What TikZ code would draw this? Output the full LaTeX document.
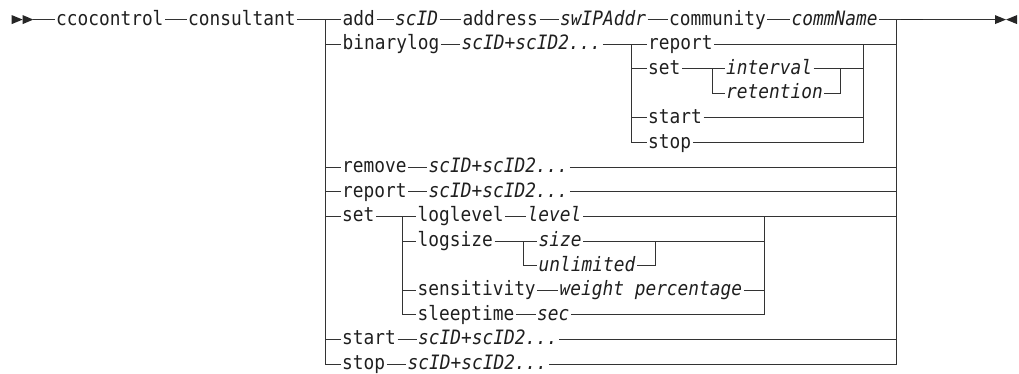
\documentclass[tikz,border=0pt]{standalone}
\usepackage{fontspec}
\newfontfamily\railfont[FakeStretch=0.9]{DejaVu Sans Mono}
\newcommand\railsize{\railfont\fontsize{19.8pt}{20pt}\selectfont}
\begin{document}
\begin{tikzpicture}[x=1pt,y=-1pt,
  kw/.style={anchor=west, inner xsep=1.5pt, inner ysep=0pt, text height=14pt, text depth=3pt, font=\railsize, text=black!88},
  var/.style={kw, font=\railsize\itshape},
  ln/.style={line width=1pt, draw=black!80},
  tip/.style={fill=black!85, draw=none}]
\useasboundingbox (0,0) rectangle (1019,374);
% row y positions
\def\ya{19.6}\def\yb{44.2}\def\yc{68.8}\def\yd{93.4}\def\ye{118.0}\def\yf{142.6}
\def\yg{167.2}\def\yh{191.8}\def\yi{216.4}\def\yj{241.0}\def\yk{265.6}\def\yl{290.2}
\def\ym{314.8}\def\yn{339.4}\def\yo{364.0}
% start / end markers
\fill[tip] (11.7,\ya-4.5) -- (22.7,\ya) -- (11.7,\ya+4.5) -- cycle;
\fill[tip] (22.7,\ya-4.5) -- (33.3,\ya) -- (22.7,\ya+4.5) -- cycle;
\coordinate (begin) at (33.3,\ya);
\coordinate (finish) at (995,\ya);
\fill[tip] (995,\ya-4.5) -- (1006,\ya) -- (995,\ya+4.5) -- cycle;
\fill[tip] (1017,\ya-4.5) -- (1006,\ya) -- (1017,\ya+4.5) -- cycle;
% bar coordinates
\coordinate (L0) at (325,\ya); \coordinate (R0) at (896,\ya);
\coordinate (BL) at (631,\yb); \coordinate (BR) at (863,\yb);
\coordinate (IL) at (712,\yc); \coordinate (IR) at (840,\yc);
\coordinate (SL) at (402,\yi); \coordinate (SR) at (764,\yi);
\coordinate (ZL) at (523,\yj); \coordinate (ZR) at (655,\yj);
% row 0
\node[kw]  (cco)   at (54.5,\ya)  {ccocontrol};
\node[kw]  (con)   at (186.5,\ya) {consultant};
\node[kw]  (add)   at (341,\ya)   {add};
\node[var] (ascid) at (393.5,\ya) {scID};
\node[kw]  (addr)  at (461,\ya)   {address};
\node[var] (swip)  at (558.5,\ya) {swIPAddr};
\node[kw]  (comm)  at (667.5,\ya) {community};
\node[var] (cname) at (790,\ya)   {commName};
% binarylog group
\node[kw]  (blog)  at (341,\yb)   {binarylog};
\node[var] (blids) at (460,\yb)   {scID+scID2...};
\node[kw]  (brep)  at (646.5,\yb) {report};
\node[kw]  (bset)  at (646.5,\yc) {set};
\node[var] (intv)  at (724.5,\yc) {interval};
\node[var] (reten) at (724.5,\yd) {retention};
\node[kw]  (bstart) at (646.5,\ye) {start};
\node[kw]  (bstop) at (646.5,\yf) {stop};
% remove / report
\node[kw]  (rem)   at (340.5,\yg) {remove};
\node[var] (remids) at (427,\yg)  {scID+scID2...};
\node[kw]  (rep)   at (340.5,\yh) {report};
\node[var] (repids) at (427,\yh)  {scID+scID2...};
% set group
\node[kw]  (set)   at (340.5,\yi) {set};
\node[kw]  (llev)  at (416,\yi)   {loglevel};
\node[var] (lev)   at (526,\yi)   {level};
\node[kw]  (lsize) at (416,\yj)   {logsize};
\node[var] (size)  at (537,\yj)   {size};
\node[var] (unl)   at (537,\yk)   {unlimited};
\node[kw]  (sens)  at (416,\yl)   {sensitivity};
\node[var] (wp)    at (558,\yl)   {weight percentage};
\node[kw]  (sleep) at (416,\ym)   {sleeptime};
\node[var] (sec)   at (535.5,\ym) {sec};
% start / stop
\node[kw]  (sta)   at (340.5,\yn) {start};
\node[var] (staids) at (416.5,\yn) {scID+scID2...};
\node[kw]  (sto)   at (340.5,\yo) {stop};
\node[var] (stoids) at (406,\yo)  {scID+scID2...};
% ---- connectors
% main line
\draw[ln] (begin) -- (cco) (cco) -- (con) (con) -- (add) (add) -- (ascid) (ascid) -- (addr)
  (addr) -- (swip) (swip) -- (comm) (comm) -- (cname) (cname) -- (finish);
\draw[line width=1.8pt, draw=black!85] (901,\ya) -- (923,\ya);
% main bars
\draw[ln] (L0) |- (sto.west);
\draw[ln] (R0) |- (stoids.east);
\foreach \n in {blog,rem,rep,set,sta} \draw[ln] (L0 |- \n.west) -- (\n.west);
\foreach \n in {brep,remids,repids,lev,staids} \draw[ln] (\n.east) -- (R0 |- \n.east);
\draw[ln] (sto) -- (stoids);
% binarylog
\draw[ln] (blog) -- (blids) (blids) -- (brep) (bset) -- (intv) (bstart.east) -- (BR |- bstart.east);
\draw[ln] (BL) |- (bstop.west);
\foreach \n in {bset,bstart} \draw[ln] (BL |- \n.west) -- (\n.west);
\draw[ln] (BR) |- (bstop.east);
\draw[ln] (IL) |- (reten.west);
\draw[ln] (IR) |- (reten.east);
\draw[ln] (intv.east) -- (BR |- intv.east);
% remove / report / start
\draw[ln] (rem) -- (remids) (rep) -- (repids) (sta) -- (staids);
% set group
\draw[ln] (set) -- (llev) (llev) -- (lev) (lsize) -- (size) (sens) -- (wp) (sleep) -- (sec);
\draw[ln] (SL) |- (sleep.west);
\foreach \n in {lsize,sens} \draw[ln] (SL |- \n.west) -- (\n.west);
\draw[ln] (SR) |- (sec.east);
\draw[ln] (wp.east) -- (SR |- wp.east);
\draw[ln] (ZL) |- (unl.west);
\draw[ln] (ZR) |- (unl.east);
\draw[ln] (size.east) -- (SR |- size.east);
\end{tikzpicture}
\end{document}
